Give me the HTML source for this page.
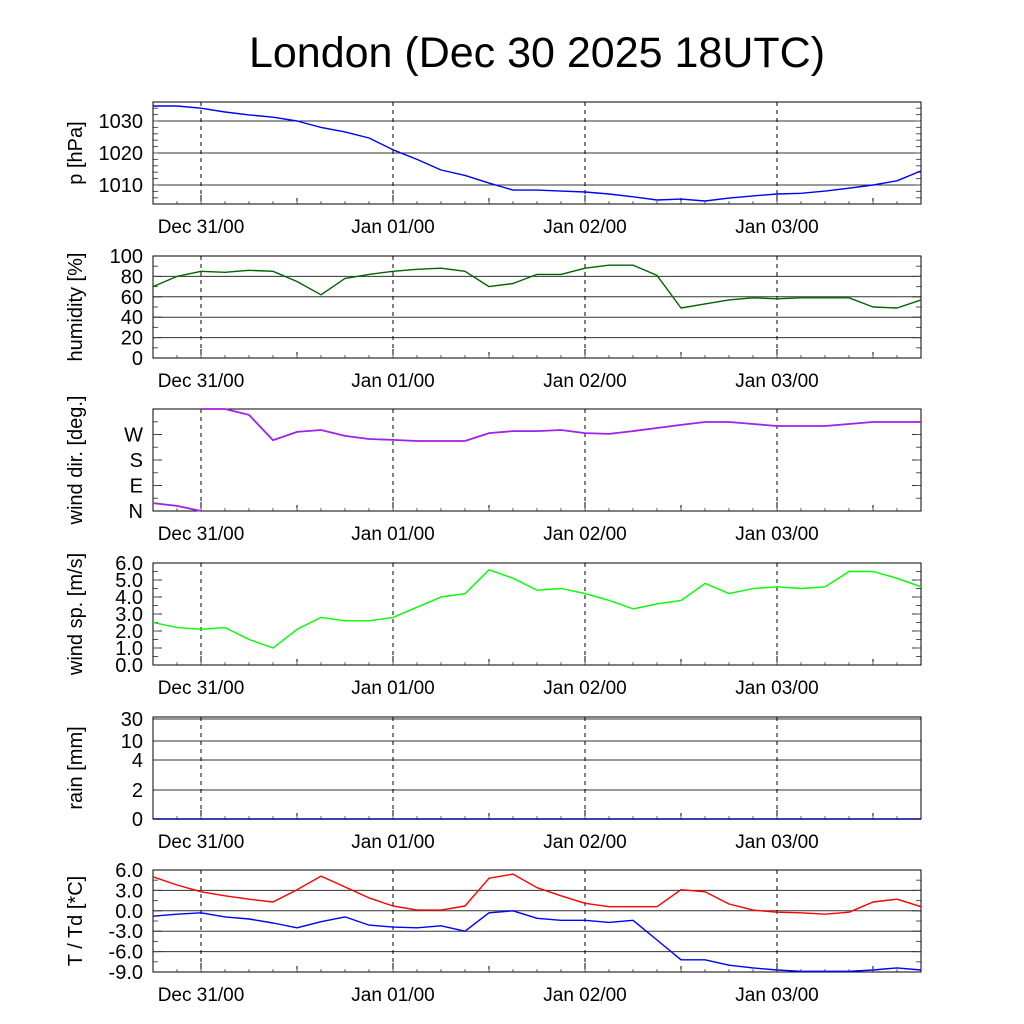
<!DOCTYPE html>
<html><head><meta charset="utf-8"><style>
html,body{margin:0;padding:0;background:#fff;}
svg{display:block;font-family:"Liberation Sans",sans-serif;}
</style></head><body>
<svg id="chart" width="1024" height="1024" viewBox="0 0 1024 1024">
<text x="537" y="67" font-size="43" text-anchor="middle">London (Dec 30 2025 18UTC)</text>
</svg>
<script>
// hours since Dec 30 18UTC, 3-hour steps
const hours = [0,3,6,9,12,15,18,21,24,27,30,33,36,39,42,45,48,51,54,57,60,63,66,69,72,75,78,81,84,87,90,93,96];
const pressure = [1034.7,1034.7,1034,1032.8,1031.9,1031.2,1030,1028,1026.6,1024.7,1021,1018,1014.7,1013,1010.6,1008.4,1008.4,1008.1,1007.8,1007.2,1006.3,1005.3,1005.6,1005,1005.9,1006.6,1007.2,1007.4,1008.1,1009,1010,1011.3,1014.4];
const humidity = [70,80,85,84,86,85,75,62,78,82,85,87,88,85,70,73,82,82,88,91,91,81,49,53,57,59,58,59,59,59,50,49,57];
const windDir = [28,18,360,360,339,250,279,286,265,254,251,247,247,247,275,282,282,286,275,272,282,293,304,314,314,307,300,300,300,307,314,314,314];
const windSpeed = [2.5,2.2,2.1,2.2,1.5,1.0,2.1,2.8,2.6,2.6,2.8,3.4,4.0,4.2,5.6,5.1,4.4,4.5,4.2,3.8,3.3,3.6,3.8,4.8,4.2,4.5,4.6,4.5,4.6,5.5,5.5,5.1,4.6];
const rain = [0,0,0,0,0,0,0,0,0,0,0,0,0,0,0,0,0,0,0,0,0,0,0,0,0,0,0,0,0,0,0,0,0];
const temperature = [5.0,3.8,2.8,2.2,1.7,1.3,3.1,5.1,3.5,1.9,0.7,0.1,0.1,0.7,4.8,5.4,3.4,2.2,1.1,0.6,0.6,0.6,3.1,2.8,1.0,0.1,-0.2,-0.3,-0.5,-0.2,1.3,1.7,0.6];
const dewpoint = [-0.8,-0.5,-0.3,-0.9,-1.2,-1.8,-2.5,-1.6,-0.9,-2.1,-2.4,-2.5,-2.2,-3.0,-0.3,0.0,-1.1,-1.4,-1.4,-1.7,-1.4,-4.3,-7.2,-7.2,-8.0,-8.4,-8.7,-8.9,-8.9,-8.9,-8.7,-8.4,-8.7];
const dayLabels = ["Dec 31/00","Jan 01/00","Jan 02/00","Jan 03/00"];
const dayHours = [6,30,54,78];
const pTicks = [1010,1020,1030];
const hTicks = [0,20,40,60,80,100];
const dirTicks = [0,90,180,270];
const dirLabels = ["N","E","S","W"];
const wsTicks = [0,1,2,3,4,5,6];
const rainTicks = [0,2,4,10,30];
const tTicks = [-9,-6,-3,0,3,6];

const NS="http://www.w3.org/2000/svg";
const svg=document.getElementById('chart');
const X0=153,X1=921,H0=0,H1=96;
const xs=h=>X0+(h-H0)/(H1-H0)*(X1-X0);
function el(tag,attrs,parent){const e=document.createElementNS(NS,tag);for(const k in attrs)e.setAttribute(k,attrs[k]);(parent||svg).appendChild(e);return e;}

function panel(name,top,bot,yfun,ticks,labels,grid,title,minorStep,vmin,vmax){
  const g=el('g',{});
  
  
  ticks.forEach((t,i)=>{
    const y=yfun(t);
    if(grid && y>top+1 && y<bot-1){
      const l=el('line',{x1:X0,x2:X1,y1:y,y2:y,stroke:'#333','stroke-width':1},g);
      
      
    }
    el('line',{x1:X0,x2:X0+9,y1:y,y2:y,stroke:'#333'},g);
    el('line',{x1:X1,x2:X1-9,y1:y,y2:y,stroke:'#333'},g);
    const tx=el('text',{x:X0-10,y:y+7,'font-size':20,'text-anchor':'end'},g);
    tx.textContent=labels?labels[i]:t;
    
    
  });
  if(minorStep){
    for(let v=vmin;v<=vmax+1e-9;v+=minorStep){const y=yfun(v);if(y>=top&&y<=bot){el('line',{x1:X0,x2:X0+5,y1:y,y2:y,stroke:'#555'},g);el('line',{x1:X1,x2:X1-5,y1:y,y2:y,stroke:'#555'},g);}}
  }
  dayHours.forEach((h,i)=>{
    const x=xs(h);
    el('line',{x1:x,x2:x,y1:top,y2:bot,stroke:'#000','stroke-dasharray':'4,4'},g);
    el('line',{x1:x,x2:x,y1:bot,y2:bot-9,stroke:'#000'},g);
    const tx=el('text',{x:x,y:bot+29,'font-size':19,'text-anchor':'middle'},g);
    tx.textContent=dayLabels[i];
    
    
  });
  for(let h=18;h<96;h+=24){const x=xs(h);el('line',{x1:x,x2:x,y1:bot,y2:bot-6,stroke:'#000'},g);}
  for(let h=0;h<=96;h+=3){const x=xs(h);el('line',{x1:x,x2:x,y1:bot,y2:bot-3,stroke:'#666'},g);}
  const r=el('rect',{x:X0,y:top,width:X1-X0,height:bot-top,fill:'none',stroke:'#000','stroke-width':1},g);
  
  
  const t=el('text',{x:0,y:0,'font-size':20,'text-anchor':'middle',transform:`translate(82,${(top+bot)/2}) rotate(-90)`},g);
  t.textContent=title;
  
  
  return g;
}
function series(name,vals,yfun,color,g){
  const pts=vals.map((v,i)=>xs(hours[i]).toFixed(1)+','+yfun(v).toFixed(1)).join(' ');
  const p=el('polyline',{points:pts,fill:'none',stroke:color,'stroke-width':1.4,'stroke-linejoin':'round'},g);
  
  
}

const yP=v=>121+(1030-v)*3.2;
const gP=panel('pressure',102,204,yP,pTicks,null,true,'p [hPa]',2,1006,1034);
series('pressure-line',pressure,yP,'#0000ff',gP);
const yH=v=>358-v*1.02;
const gH=panel('humidity',256,358,yH,hTicks,null,true,'humidity [%]',10,0,100);
series('humidity-line',humidity,yH,'#006400',gH);
const yD=v=>511-v*102/360;
const gD=panel('wind-dir',409,511,yD,dirTicks,dirLabels,false,'wind dir. [deg.]',45,0,360);
(function(){
  let seg=[];const segs=[seg];
  for(let i=0;i<windDir.length;i++){
    if(i>0){const d=windDir[i]-windDir[i-1];
      if(Math.abs(d)>180){
        const u=d>0?windDir[i]-360:windDir[i]+360;
        const f=((d>0?0:360)-windDir[i-1])/(u-windDir[i-1]);
        const hh=hours[i-1]+f*(hours[i]-hours[i-1]);
        seg.push([xs(hh),yD(d>0?0:360)]);
        seg=[[xs(hh),yD(d>0?360:0)]];segs.push(seg);
      }}
    seg.push([xs(hours[i]),yD(windDir[i])]);
  }
  segs.forEach(s=>{const p=el('polyline',{points:s.map(q=>q[0].toFixed(1)+','+q[1].toFixed(1)).join(' '),fill:'none',stroke:'#a020f0','stroke-width':1.8},gD);
    
    });
})();
const yW=v=>665-v*17;
const gW=panel('wind-speed',563,665,yW,wsTicks,wsTicks.map(v=>v.toFixed(1)),false,'wind sp. [m/s]',0.5,0,6);
series('wind-speed-line',windSpeed,yW,'#00ff00',gW);
const rainPos=[[0,819],[2,790],[4,760],[10,741],[30,719]];
const yR=v=>{for(let i=1;i<rainPos.length;i++){if(v<=rainPos[i][0]){const a=rainPos[i-1],b=rainPos[i];return a[1]+(v-a[0])/(b[0]-a[0])*(b[1]-a[1]);}}return 717;};
const gR=panel('rain',717,819,yR,rainTicks,null,true,'rain [mm]',0,0,0);
series('rain-line',rain,yR,'#00008b',gR);
const yT=v=>870+(6-v)*6.8;
const gT=panel('temperature',870,972,yT,tTicks,tTicks.map(v=>v.toFixed(1)),true,'T / Td [*C]',1.5,-9,6);
series('temperature-line',temperature,yT,'#ff0000',gT);
series('dewpoint-line',dewpoint,yT,'#0000ff',gT);
</script>
</body></html>
